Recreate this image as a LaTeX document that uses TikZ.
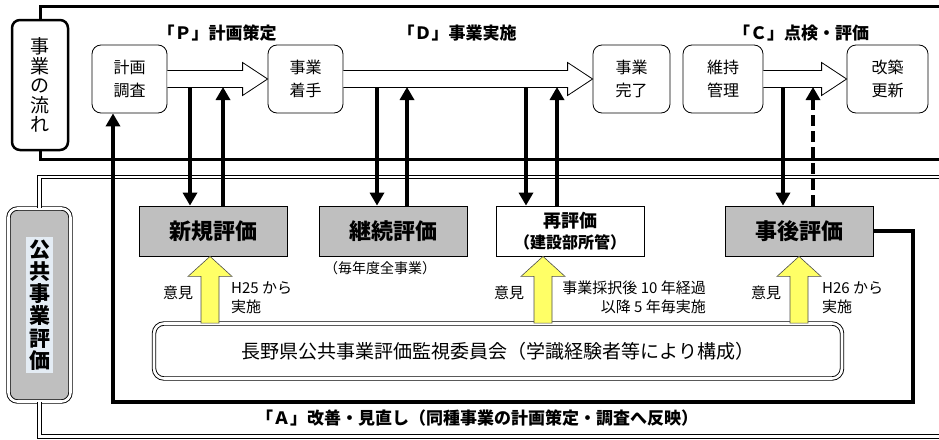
\documentclass[tikz,border=0pt]{standalone}
\usepackage{fontspec}
\setmainfont{Noto Sans CJK JP}
\usetikzlibrary{arrows.meta,calc}
\definecolor{boxgray}{HTML}{BFBFBF}
\definecolor{yel}{HTML}{FFFF66}
\definecolor{hilite}{HTML}{E4ECF4}
\newcommand\fs[2]{\fontsize{#1}{#2}\selectfont}
\begin{document}
\begin{tikzpicture}[x=1pt,y=-1pt,>={Triangle[width=14pt,length=13pt]},
  flowbox/.style={draw, line width=0.8pt, rounded corners=9pt, fill=white, align=center,
    minimum height=68pt, inner sep=0pt, font=\fs{16}{23}},
  evalbox/.style={draw, line width=0.8pt, fill=boxgray, align=center,
    minimum width=148pt, minimum height=50pt, inner sep=0pt, font=\fs{22}{24}\bfseries},
  phase/.style={font=\fs{17}{20}\bfseries},
  note/.style={font=\fs{15}{19}, inner sep=0pt},
  frame/.style={line width=3pt},
  dbl/.style={double, double distance=2.6pt, line width=0.9pt},
  fat/.style={line width=4pt},
  hollow/.style={draw, line width=0.8pt, fill=white},
  yarrow/.style={draw=black!70, line width=0.6pt, fill=yel}]
\useasboundingbox (0,0) rectangle (939,439);

% side labels
\node[draw, frame, line width=2.5pt, rounded corners=8pt, fill=white, minimum width=56pt,
  minimum height=130pt, inner sep=0pt, align=center, font=\fs{19}{19.5}] (flow) at (40,85)
  {事\\業\\の\\流\\れ};
\node[draw, dbl, rounded corners=9pt, fill=boxgray, minimum width=62pt, minimum height=193pt,
  inner sep=0pt] (kokyo) at (39.5,305) {};
\node[fill=hilite, inner sep=3pt, align=center, font=\fs{21}{22.2}\bfseries] at (kokyo)
  {公\\共\\事\\業\\評\\価};

% frames
\draw[frame] (flow.north) |- (945,6);
\draw[frame] (flow.south) |- (945,159);
\draw[dbl] (kokyo.north) |- (945,177);
\draw[dbl] (kokyo.south) |- (945,436.5);

% project flow
\node[flowbox, minimum width=75pt] (plan) at (129.5,79) {計画\\調査};
\node[flowbox, minimum width=75pt] (start) at (305.5,79) {事業\\着手};
\node[flowbox, minimum width=77pt] (done) at (631.5,79) {事業\\完了};
\node[flowbox, minimum width=80pt] (maint) at (723,79) {維持\\管理};
\node[flowbox, minimum width=81pt] (renew) at (887.5,79) {改築\\更新};

\foreach \a/\b in {plan/start, start/done, maint/renew}
  \draw[hollow] ($(\a.east)+(0,-8.5)$) -- ($(\b.west)+(-25,-8.5)$) -- ($(\b.west)+(-25,-16.5)$)
    -- (\b.west) -- ($(\b.west)+(-25,16.5)$) -- ($(\b.west)+(-25,8.5)$) -- ($(\a.east)+(0,8.5)$);

\node[phase] (P) at (217,33) {「Ｐ」計画策定};
\node[phase] (D) at (457,33) {「Ｄ」事業実施};
\node[phase] (C) at (801,33) {「Ｃ」点検・評価};

% evaluations
\node[evalbox] (shinki) at (213,231) {新規評価};
\node[evalbox] (keizoku) at (393.5,231) {継続評価};
\node[evalbox, fill=white, font=\fs{18}{21}\bfseries] (sai) at (570,231)
  {再評価\\{\fs{16}{18}\bfseries（建設部所管）}};
\node[evalbox] (jigo) at (799,231) {事後評価};
\node[font=\fs{14}{16}] (every) at (380,268) {（毎年度全事業）};

\node[draw, dbl, rounded corners=10pt, fill=white, minimum width=688pt, minimum height=55pt,
  font=\fs{19}{22}] (com) at (498,351) {長野県公共事業評価監視委員会（学識経験者等により構成）};

% committee opinions
\foreach \ev/\ax in {shinki/210, sai/543, jigo/799}
  \draw[yarrow] let \p1=(com.north -| \ax,0), \p2=(\ev.south) in
    (\x1-9pt,\y1) -- (\x1-9pt,\y2-20pt) -- (\x1-22pt,\y2-20pt) -- (\x1,\y2)
    -- (\x1+22pt,\y2-20pt) -- (\x1+9pt,\y2-20pt) -- (\x1+9pt,\y1) -- cycle;

\node[note] at (178,293) {意見};
\node[note] at (509,293) {意見};
\node[note] at (766,293) {意見};
\node[note, align=left, anchor=north west] at (231,281) {H25 から\\実施};
\node[note, align=right, anchor=north east] at (706,281) {事業採択後 10 年経過\\以降 5 年毎実施};
\node[note, align=left, anchor=north west] at (822,281) {H26 から\\実施};

% links between flow and evaluations
\coordinate (s1) at (190,87);
\coordinate (s2) at (223,87);
\coordinate (k1) at (377,87);
\coordinate (k2) at (407,87);
\coordinate (r1) at (526,87);
\coordinate (r2) at (557,87);
\coordinate (j1) at (783,87);
\coordinate (j2) at (813,87);
\draw[fat,->] (s1) -- (s1 |- shinki.north);
\draw[fat,<-] (s2) -- (s2 |- shinki.north);
\draw[fat,->] (k1) -- (k1 |- keizoku.north);
\draw[fat,<-] (k2) -- (k2 |- keizoku.north);
\draw[fat,->] (r1) -- (r1 |- sai.north);
\draw[fat,<-] (r2) -- (r2 |- sai.north);
\draw[fat,->] (j1) -- (j1 |- jigo.north);
\draw[fat,<-, dash pattern=on 11pt off 5pt] (j2) -- (j2 |- jigo.north);

% feedback
\coordinate (fbr) at (913,402);
\coordinate (fbl) at (113,402);
\draw[fat,->] (jigo.east) -| (fbr) -- (fbl) -- (fbl |- plan.south);
\node[phase] (A) at (477,418) {「Ａ」改善・見直し（同種事業の計画策定・調査へ反映）};
\end{tikzpicture}
\end{document}
